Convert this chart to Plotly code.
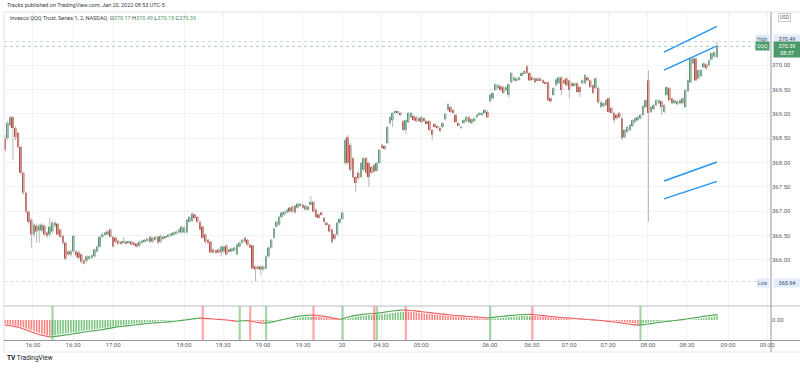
import plotly.graph_objects as go

# ---------------- data ----------------
opens = [
    368.50, 368.50, 368.77, 368.93, 368.71, 368.61, 368.32, 367.79, 367.38, 366.99,
    366.82, 366.52, 366.70, 366.60, 366.60, 366.70, 366.56, 366.52, 366.58, 366.70,
    366.74, 366.62, 366.49, 366.35, 366.17, 366.11, 366.17, 366.17, 366.15, 366.11,
    365.98, 365.98, 366.02, 366.04, 366.07, 366.17, 366.27, 366.47, 366.52, 366.52,
    366.62, 366.47, 366.45, 366.39, 366.37, 366.35, 366.37, 366.35, 366.37, 366.35,
    366.33, 366.29, 366.35, 366.37, 366.39, 366.47, 366.37, 366.41, 366.47, 366.37,
    366.47, 366.45, 366.47, 366.49, 366.52, 366.54, 366.56, 366.56, 366.56, 366.56,
    366.78, 366.80, 366.93, 366.88, 366.78, 366.68, 366.52, 366.41, 366.37, 366.21,
    366.19, 366.21, 366.15, 366.17, 366.29, 366.21, 366.17, 366.19, 366.11, 366.27,
    366.35, 366.45, 366.41, 366.31, 366.29, 365.86, 365.82, 365.86, 365.80, 365.82,
    366.07, 366.25, 366.45, 366.68, 366.72, 366.88, 366.93, 366.97, 367.07, 366.99,
    367.11, 367.07, 367.11, 367.13, 367.03, 367.09, 367.13, 367.19, 367.03, 366.93,
    366.97, 366.86, 366.76, 366.72, 366.62, 366.52, 366.52, 366.76, 366.84, 367.99,
    368.52, 368.36, 368.09, 367.70, 367.79, 367.70, 367.85, 368.09, 367.99, 367.91,
    367.95, 367.83, 367.99, 368.36, 368.34, 368.40, 368.81, 368.87, 369.02, 369.02,
    369.02, 368.85, 368.67, 368.83, 368.93, 368.96, 368.93, 368.91, 368.83, 368.91,
    368.85, 368.85, 368.67, 368.79, 368.75, 368.71, 368.73, 368.89, 369.08, 369.14,
    369.08, 368.98, 368.81, 368.71, 368.81, 368.85, 368.93, 368.81, 368.85, 368.93,
    368.98, 368.98, 369.02, 369.04, 369.26, 369.32, 369.49, 369.53, 369.57, 369.55,
    369.49, 369.39, 369.65, 369.69, 369.69, 369.71, 369.80, 369.84, 369.98, 369.84,
    369.75, 369.73, 369.69, 369.73, 369.69, 369.65, 369.65, 369.32, 369.39, 369.59,
    369.63, 369.75, 369.69, 369.73, 369.69, 369.63, 369.59, 369.63, 369.55, 369.63,
    369.63, 369.75, 369.69, 369.59, 369.53, 369.53, 369.14, 369.16, 369.18, 369.32,
    369.12, 369.02, 368.98, 369.02, 368.91, 368.52, 368.63, 368.67, 368.75, 368.83,
    368.87, 368.91, 368.98, 369.14, 369.69, 369.04, 369.10, 369.18, 369.22, 369.26,
    369.04, 369.39, 369.53, 369.32, 369.22, 369.20, 369.28, 369.22, 369.14, 369.47,
    369.65, 370.04, 370.14, 369.73, 369.78, 369.96, 370.02, 370.00, 370.12, 370.18, 370.17,
]
highs = [
    368.57, 368.85, 368.96, 368.96, 368.75, 368.63, 368.34, 367.81, 367.40, 367.01,
    366.86, 366.76, 366.74, 366.74, 366.76, 366.72, 366.58, 366.86, 366.80, 366.80,
    366.76, 366.64, 366.52, 366.37, 366.19, 366.21, 366.52, 366.19, 366.19, 366.13,
    366.00, 366.09, 366.09, 366.11, 366.23, 366.29, 366.49, 366.56, 366.58, 366.62,
    366.64, 366.49, 366.47, 366.41, 366.39, 366.47, 366.39, 366.39, 366.39, 366.37,
    366.35, 366.39, 366.41, 366.43, 366.45, 366.49, 366.47, 366.49, 366.49, 366.52,
    366.49, 366.49, 366.54, 366.56, 366.58, 366.60, 366.64, 366.70, 366.68, 366.84,
    366.90, 366.97, 366.95, 366.90, 366.80, 366.70, 366.54, 366.43, 366.39, 366.23,
    366.21, 366.23, 366.29, 366.29, 366.31, 366.23, 366.25, 366.27, 366.33, 366.37,
    366.43, 366.47, 366.43, 366.33, 366.31, 365.88, 365.88, 365.88, 365.88, 366.09,
    366.27, 366.43, 366.66, 366.80, 366.90, 366.99, 367.01, 367.05, 367.09, 367.11,
    367.13, 367.17, 367.17, 367.15, 367.13, 367.11, 367.31, 367.21, 367.05, 366.95,
    366.99, 366.88, 366.78, 366.74, 366.64, 366.54, 366.78, 366.86, 366.99, 368.50,
    368.57, 368.40, 368.11, 367.72, 367.81, 368.01, 368.11, 368.11, 368.01, 367.93,
    367.97, 368.01, 368.28, 368.38, 368.36, 368.75, 368.96, 369.04, 369.08, 369.06,
    369.04, 368.87, 368.89, 369.04, 369.04, 368.98, 368.96, 368.93, 368.96, 368.93,
    368.87, 368.87, 368.69, 368.81, 368.77, 368.73, 368.83, 369.02, 369.22, 369.16,
    369.10, 369.00, 368.83, 368.75, 368.89, 368.96, 368.96, 368.91, 368.93, 369.00,
    369.04, 369.04, 369.10, 369.08, 369.41, 369.45, 369.63, 369.61, 369.59, 369.57,
    369.57, 369.63, 369.86, 369.77, 369.75, 369.77, 369.86, 369.90, 370.00, 369.86,
    369.77, 369.75, 369.75, 369.75, 369.71, 369.67, 369.67, 369.34, 369.55, 369.73,
    369.77, 369.77, 369.71, 369.75, 369.71, 369.65, 369.65, 369.65, 369.57, 369.71,
    369.82, 369.77, 369.71, 369.61, 369.75, 369.57, 369.26, 369.24, 369.30, 369.34,
    369.14, 369.04, 369.00, 369.04, 368.93, 368.69, 368.75, 368.79, 368.89, 368.93,
    368.96, 369.00, 369.18, 369.30, 369.90, 369.16, 369.20, 369.30, 369.30, 369.28,
    369.20, 369.57, 369.55, 369.34, 369.30, 369.28, 369.30, 369.34, 369.51, 369.71,
    370.16, 370.16, 370.16, 369.92, 369.92, 370.06, 370.04, 370.12, 370.27, 370.29, 370.49,
]
lows = [
    368.22, 368.46, 368.73, 368.05, 368.46, 368.30, 367.75, 367.34, 366.95, 366.72,
    366.25, 366.47, 366.35, 366.35, 366.56, 366.49, 366.45, 366.47, 366.54, 366.66,
    366.49, 366.45, 366.31, 365.98, 366.07, 366.07, 366.15, 366.04, 366.00, 365.92,
    365.90, 365.94, 366.00, 366.02, 366.04, 366.15, 366.25, 366.45, 366.49, 366.49,
    366.45, 366.25, 366.33, 366.31, 366.31, 366.33, 366.31, 366.33, 366.29, 366.29,
    366.25, 366.27, 366.33, 366.35, 366.37, 366.35, 366.35, 366.39, 366.33, 366.35,
    366.41, 366.43, 366.45, 366.47, 366.49, 366.52, 366.54, 366.54, 366.54, 366.54,
    366.76, 366.78, 366.84, 366.76, 366.60, 366.43, 366.33, 366.33, 366.13, 366.13,
    366.13, 366.13, 366.07, 366.15, 366.09, 366.15, 366.15, 366.17, 366.09, 366.25,
    366.33, 366.35, 366.29, 366.23, 365.80, 365.55, 365.80, 365.68, 365.78, 365.80,
    366.04, 366.23, 366.43, 366.66, 366.70, 366.86, 366.90, 366.95, 366.97, 366.97,
    366.95, 367.05, 367.09, 367.05, 367.01, 367.01, 367.11, 366.97, 366.86, 366.84,
    366.90, 366.76, 366.70, 366.56, 366.33, 366.41, 366.49, 366.74, 366.82, 367.95,
    367.95, 367.81, 367.66, 367.40, 367.64, 367.68, 367.83, 367.75, 367.50, 367.77,
    367.79, 367.81, 367.97, 368.28, 368.26, 368.38, 368.79, 368.73, 369.00, 369.00,
    368.96, 368.65, 368.59, 368.81, 368.91, 368.85, 368.83, 368.83, 368.81, 368.83,
    368.79, 368.65, 368.46, 368.71, 368.69, 368.63, 368.71, 368.87, 369.06, 369.02,
    369.00, 368.81, 368.75, 368.69, 368.79, 368.83, 368.81, 368.79, 368.83, 368.91,
    368.96, 368.96, 369.00, 368.91, 369.24, 369.30, 369.47, 369.51, 369.47, 369.41,
    369.47, 369.34, 369.63, 369.67, 369.67, 369.69, 369.78, 369.82, 369.82, 369.67,
    369.69, 369.63, 369.67, 369.67, 369.63, 369.61, 369.26, 369.24, 369.37, 369.57,
    369.61, 369.39, 369.61, 369.57, 369.32, 369.57, 369.57, 369.43, 369.34, 369.61,
    369.61, 369.67, 369.53, 369.41, 369.51, 369.20, 369.12, 369.14, 369.16, 369.02,
    369.00, 368.81, 368.89, 368.91, 368.46, 368.50, 368.61, 368.65, 368.73, 368.81,
    368.85, 368.89, 368.96, 369.12, 366.78, 369.02, 369.08, 369.16, 369.20, 368.98,
    369.02, 369.37, 369.26, 369.20, 369.20, 369.18, 369.20, 369.20, 369.12, 369.45,
    369.63, 370.02, 369.67, 369.71, 369.75, 369.94, 369.90, 369.98, 370.10, 370.16, 370.15,
]
closes = [
    368.26, 368.81, 368.93, 368.71, 368.52, 368.32, 367.79, 367.38, 366.99, 366.78,
    366.52, 366.72, 366.58, 366.70, 366.72, 366.52, 366.49, 366.68, 366.76, 366.76,
    366.52, 366.47, 366.35, 366.02, 366.11, 366.17, 366.49, 366.09, 366.04, 365.96,
    365.92, 366.07, 366.07, 366.09, 366.21, 366.27, 366.47, 366.52, 366.56, 366.58,
    366.47, 366.27, 366.37, 366.33, 366.33, 366.37, 366.33, 366.37, 366.31, 366.31,
    366.27, 366.37, 366.39, 366.41, 366.43, 366.37, 366.45, 366.47, 366.35, 366.49,
    366.43, 366.47, 366.52, 366.54, 366.56, 366.58, 366.62, 366.68, 366.66, 366.82,
    366.88, 366.95, 366.86, 366.78, 366.62, 366.45, 366.37, 366.35, 366.15, 366.15,
    366.15, 366.15, 366.27, 366.27, 366.11, 366.17, 366.23, 366.25, 366.31, 366.35,
    366.41, 366.37, 366.31, 366.25, 365.82, 365.80, 365.86, 365.80, 365.86, 366.07,
    366.25, 366.41, 366.64, 366.78, 366.88, 366.97, 366.99, 367.03, 366.99, 367.09,
    366.97, 367.15, 367.15, 367.07, 367.11, 367.03, 367.19, 366.99, 366.88, 366.86,
    366.93, 366.78, 366.72, 366.58, 366.37, 366.43, 366.76, 366.84, 366.97, 368.46,
    367.99, 367.85, 367.70, 367.58, 367.68, 367.99, 368.09, 367.79, 367.70, 367.79,
    367.81, 367.99, 368.26, 368.30, 368.28, 368.73, 368.93, 369.02, 369.06, 369.04,
    368.98, 368.67, 368.87, 369.02, 369.02, 368.87, 368.85, 368.85, 368.93, 368.85,
    368.81, 368.67, 368.57, 368.73, 368.71, 368.65, 368.81, 369.00, 369.20, 369.04,
    369.02, 368.83, 368.77, 368.73, 368.87, 368.93, 368.83, 368.89, 368.91, 368.98,
    369.02, 369.02, 369.08, 368.93, 369.39, 369.43, 369.61, 369.59, 369.49, 369.43,
    369.55, 369.61, 369.84, 369.75, 369.73, 369.75, 369.84, 369.88, 369.84, 369.69,
    369.71, 369.65, 369.73, 369.69, 369.65, 369.63, 369.28, 369.26, 369.53, 369.71,
    369.75, 369.49, 369.63, 369.59, 369.49, 369.59, 369.63, 369.45, 369.45, 369.69,
    369.80, 369.69, 369.55, 369.43, 369.73, 369.24, 369.24, 369.22, 369.28, 369.04,
    369.02, 368.87, 368.91, 368.93, 368.50, 368.67, 368.73, 368.77, 368.87, 368.91,
    368.93, 368.98, 369.16, 369.28, 369.02, 369.14, 369.18, 369.28, 369.28, 369.14,
    369.18, 369.55, 369.28, 369.22, 369.28, 369.26, 369.22, 369.32, 369.49, 369.69,
    370.14, 370.14, 369.69, 369.90, 369.90, 370.04, 369.94, 370.10, 370.25, 370.27, 370.39,
]
# oscillator (lower pane)
osc = [
    -0.050, -0.054, -0.058, -0.062,
    -0.066, -0.072, -0.080, -0.089, -0.099, -0.109, -0.119, -0.128, -0.137, -0.145,
    -0.152, -0.158, -0.164, -0.170,
    -0.167, -0.164, -0.161, -0.157, -0.154, -0.150, -0.146, -0.142, -0.138, -0.134,
    -0.129, -0.125, -0.120, -0.117, -0.113, -0.110, -0.106, -0.103, -0.100, -0.096,
    -0.091, -0.086, -0.081, -0.076, -0.071, -0.068, -0.065, -0.062, -0.059, -0.056,
    -0.053, -0.050, -0.047, -0.044, -0.041, -0.038, -0.035, -0.032, -0.030, -0.029,
    -0.027, -0.025, -0.023, -0.021, -0.019, -0.016, -0.013, -0.010, -0.007, -0.004,
    -0.001, 0.002, 0.006, 0.010, 0.014, 0.017, 0.019,
    0.018, 0.016, 0.014, 0.012, 0.010, 0.008, 0.006, 0.004, 0.002, 0.000,
    -0.003, -0.006, -0.009, -0.012,
    -0.010, -0.008, -0.007, -0.006,
    -0.010, -0.015, -0.020, -0.025, -0.029, -0.032,
    -0.030, -0.026, -0.021, -0.016, -0.010, -0.004, 0.002, 0.008, 0.014, 0.020,
    0.026, 0.031, 0.036, 0.040, 0.043, 0.046, 0.048, 0.050,
    0.049, 0.047, 0.044, 0.040, 0.036, 0.031, 0.026, 0.021, 0.016, 0.011, 0.007,
    0.010, 0.020, 0.028, 0.035, 0.041, 0.046, 0.050, 0.054, 0.057, 0.060, 0.063, 0.065,
    0.064,
    0.067, 0.071, 0.075, 0.079, 0.083, 0.087, 0.090, 0.093, 0.096, 0.098, 0.100,
    0.099, 0.097, 0.095, 0.092, 0.089, 0.086, 0.083, 0.080, 0.077, 0.074,
    0.071, 0.068, 0.065, 0.062, 0.059, 0.056, 0.053, 0.050, 0.047, 0.045,
    0.043, 0.041, 0.039, 0.037, 0.035, 0.033, 0.031, 0.029, 0.027, 0.025, 0.023, 0.021,
    0.023, 0.026, 0.029, 0.032, 0.035, 0.038, 0.041, 0.044, 0.046, 0.048,
    0.050, 0.052, 0.053, 0.054, 0.055, 0.056,
    0.055, 0.053, 0.050, 0.047, 0.044, 0.041, 0.038, 0.035, 0.032, 0.029,
    0.027, 0.025, 0.023, 0.021, 0.019, 0.017, 0.015, 0.013, 0.011, 0.009,
    0.007, 0.005, 0.003, 0.001, -0.001, -0.003, -0.005, -0.008, -0.011, -0.014,
    -0.017, -0.020, -0.023, -0.026, -0.030, -0.034, -0.038, -0.042, -0.046, -0.049, -0.051,
    -0.049, -0.046, -0.043, -0.040, -0.036, -0.032, -0.028, -0.024, -0.020, -0.017,
    -0.014, -0.011, -0.008, -0.005, -0.002, 0.001, 0.004, 0.008, 0.012, 0.016,
    0.020, 0.024, 0.028, 0.032, 0.036, 0.040, 0.044, 0.048, 0.051, 0.054,
]

time_tick_pos = [10.6, 25.8, 41.0, 67.9, 82.7, 97.8, 113.0, 127.8, 142.6, 157.8,
                 183.9, 199.8, 213.9, 228.7, 243.8, 258.6, 274.2, 289.0]
time_tick_text = ["16:00", "16:30", "17:00", "18:00", "18:30", "19:00", "19:30", "20",
                  "04:30", "05:00", "06:00", "06:30", "07:00", "07:30", "08:00",
                  "08:30", "09:00", "09:30"]
price_ticks = [366.0, 366.5, 367.0, 367.5, 368.0, 368.5, 369.0, 369.5, 370.0]
price_tick_text = ["366.00", "366.50", "367.00", "367.50", "368.00", "368.50",
                   "369.00", "369.50", "370.00"]

# drawn trend lines (bar index, price)
trend_x0 = [249.9, 249.9, 249.9, 249.9]
trend_x1 = [270.0, 270.0, 270.0, 270.0]
trend_y0 = [370.27, 369.90, 367.62, 367.25]
trend_y1 = [370.80, 370.40, 368.01, 367.61]

high_value = 370.49
last_value = 370.39
low_line_value = 365.55
low_label_text = "365.94"

# ---------------- figure ----------------
n = len(closes)
assert all(len(a) == n for a in (opens, highs, lows, osc)), [len(a) for a in (opens, highs, lows, closes, osc)]
idx = list(range(n))

UP = "#4f9a6e"
DOWN = "#c4473a"
WICK = "#b8b8b8"
GRID = "#f0f2f6"
TXT = "#5d606b"
FONT = "Roboto"

body_base = [min(o, c) for o, c in zip(opens, closes)]
body_len = [abs(c - o) for o, c in zip(opens, closes)]
body_col = [UP if c >= o else DOWN for o, c in zip(opens, closes)]

wick_x, wick_y = [], []
for i, h, l in zip(idx, highs, lows):
    wick_x += [i, i, None]
    wick_y += [l, h, None]

osc_dir = []
for i, v in enumerate(osc):
    if i == 0:
        d = "g" if osc[1] > osc[0] else "r"
    elif v > osc[i - 1]:
        d = "g"
    elif v < osc[i - 1]:
        d = "r"
    else:
        d = osc_dir[-1]
    osc_dir.append(d)
osc_bar_col = ["rgba(76,175,80,0.72)" if d == "g" else "rgba(255,82,82,0.72)" for d in osc_dir]
signals = [i for i in range(1, n) if osc_dir[i] != osc_dir[i - 1]]

seg = {"g": ([], []), "r": ([], [])}
for i in range(1, n):
    xs, ys = seg[osc_dir[i]]
    xs += [i - 1, i, None]
    ys += [osc[i - 1], osc[i], None]

fig = go.Figure()
fig.add_trace(go.Scatter(x=wick_x, y=wick_y, mode="lines", line=dict(color=WICK, width=1),
                         xaxis="x", yaxis="y", hoverinfo="skip"))
fig.add_trace(go.Bar(x=idx, y=body_len, base=body_base, width=0.72,
                     marker=dict(color=body_col, line=dict(width=0)), xaxis="x", yaxis="y"))
fig.add_trace(go.Bar(x=idx, y=osc, width=0.6, marker=dict(color=osc_bar_col, line=dict(width=0)),
                     xaxis="x2", yaxis="y2"))
fig.add_trace(go.Scatter(x=idx, y=osc, mode="lines", line=dict(color="white", width=2.6),
                         xaxis="x2", yaxis="y2", hoverinfo="skip"))
fig.add_trace(go.Scatter(x=seg["g"][0], y=seg["g"][1], mode="lines", line=dict(color="#43a047", width=1.1),
                         xaxis="x2", yaxis="y2", hoverinfo="skip"))
fig.add_trace(go.Scatter(x=seg["r"][0], y=seg["r"][1], mode="lines", line=dict(color="#f05050", width=1.1),
                         xaxis="x2", yaxis="y2", hoverinfo="skip"))


def PX(x):
    return (x - 4) / 767.0


def PY(y):
    return (340 - y) / 328.0


shapes = []
for i in signals:
    col = "rgba(76,175,80,0.5)" if osc_dir[i] == "g" else "rgba(255,82,82,0.5)"
    shapes.append(dict(type="rect", xref="x2", yref="y2 domain", x0=i - 0.42, x1=i + 0.42, y0=0, y1=1,
                       fillcolor=col, line=dict(width=0), layer="above"))
for x0, x1, y0, y1 in zip(trend_x0, trend_x1, trend_y0, trend_y1):
    shapes.append(dict(type="line", xref="x", yref="y", x0=x0, x1=x1, y0=y0, y1=y1,
                       line=dict(color="#2196f3", width=1.4)))
shapes.append(dict(type="line", xref="paper", yref="y", x0=0, x1=1, y0=high_value, y1=high_value,
                   line=dict(color="#d5d8de", width=1, dash="dot")))
shapes.append(dict(type="line", xref="paper", yref="y", x0=0, x1=1, y0=last_value, y1=last_value,
                   line=dict(color="#a9cdb8", width=1, dash="dot")))
shapes.append(dict(type="line", xref="paper", yref="y", x0=0, x1=1, y0=low_line_value, y1=low_line_value,
                   line=dict(color="#d5d8de", width=1, dash="dot")))
# frame / separators
shapes += [
    dict(type="line", xref="paper", yref="paper", x0=0, x1=0, y0=PY(352), y1=1, line=dict(color="#e0e3eb", width=1)),
    dict(type="line", xref="paper", yref="paper", x0=0, x1=PX(800), y0=1, y1=1, line=dict(color="#e0e3eb", width=1)),
    dict(type="line", xref="paper", yref="paper", x0=0, x1=PX(800), y0=PY(306), y1=PY(306), line=dict(color="#b8bcc4", width=1)),
    dict(type="line", xref="paper", yref="paper", x0=0, x1=PX(800), y0=PY(340.5), y1=PY(340.5), line=dict(color="#9598a1", width=1)),
    dict(type="line", xref="paper", yref="paper", x0=0, x1=PX(800), y0=PY(352), y1=PY(352), line=dict(color="#e6e8ee", width=1)),
    dict(type="line", xref="paper", yref="paper", x0=1, x1=1, y0=PY(352), y1=1, line=dict(color="#9598a1", width=1)),
]

LB = "#e3ecfb"
GRN = "#4c9a6a"
ann = [
    dict(x=PX(5), y=PY(5), xanchor="left", yanchor="middle",
         text="Tracks published on TradingView.com, Jan 20, 2022 08:53 UTC-5",
         font=dict(size=5.5, color="#3a3d46")),
    dict(x=PX(8), y=PY(18), xanchor="left", yanchor="middle",
         text=("Invesco QQQ Trust, Series 1, 2, NASDAQ  "
               "O<span style='color:%s'>370.17</span> H<span style='color:%s'>370.49</span> "
               "L<span style='color:%s'>370.15</span> C<span style='color:%s'>370.39</span>") % (GRN, GRN, GRN, GRN),
         font=dict(size=5.5, color="#3a3d46")),
    dict(x=PX(784), y=PY(17), xanchor="center", yanchor="middle", text="USD",
         font=dict(size=4.8, color=TXT), bordercolor="#c8cbd2", borderwidth=1, borderpad=1),
    dict(x=PX(770), y=PY(39), xanchor="right", yanchor="middle", text="High",
         font=dict(size=5, color="#50607a"), bgcolor=LB, borderpad=1),
    dict(x=PX(773), y=PY(39), xanchor="left", yanchor="middle", text="370.49", width=24,
         font=dict(size=5.5, color="#3b4a66"), bgcolor=LB, borderpad=1),
    dict(x=PX(770), y=PY(46), xanchor="right", yanchor="middle", text="QQQ",
         font=dict(size=5, color="white"), bgcolor=GRN, borderpad=1),
    dict(x=PX(773), y=PY(49), xanchor="left", yanchor="middle", text="370.39<br>08:37", width=24,
         font=dict(size=5.5, color="white"), bgcolor=GRN, borderpad=1),
    dict(x=PX(770), y=PY(283), xanchor="right", yanchor="middle", text="Low",
         font=dict(size=5, color="#50607a"), bgcolor=LB, borderpad=1),
    dict(x=PX(773), y=PY(283), xanchor="left", yanchor="middle", text=low_label_text, width=24,
         font=dict(size=5.5, color="#3b4a66"), bgcolor=LB, borderpad=1),
    dict(x=PX(5), y=PY(358), xanchor="left", yanchor="middle", text="<b>TV</b> TradingView",
         font=dict(size=6.5, color="#131722")),
]
for a in ann:
    a.update(xref="paper", yref="paper", showarrow=False)

xr = [-0.38, 290.48]
yr = [370 - (306 - 65.3) / 48.6, 370 + (65.3 - 12) / 48.6]
split = PY(306)

fig.update_layout(
    width=800, height=368,
    margin=dict(l=4, r=29, t=12, b=28, autoexpand=False),
    paper_bgcolor="white", plot_bgcolor="white",
    showlegend=False, hovermode=False, barmode="overlay",
    font=dict(family=FONT, size=6, color=TXT),
    shapes=shapes, annotations=ann,
    xaxis=dict(domain=[0, 1], anchor="y", range=xr, tickvals=time_tick_pos, showticklabels=False,
               showgrid=True, gridcolor=GRID, gridwidth=1, zeroline=False, ticks="", showline=False),
    yaxis=dict(domain=[split, 1], anchor="x", range=yr, side="right", tickvals=price_ticks,
               ticktext=price_tick_text, showgrid=True, gridcolor=GRID, gridwidth=1, zeroline=False,
               ticks="", showline=False, tickfont=dict(size=6, color=TXT, family=FONT)),
    xaxis2=dict(domain=[0, 1], anchor="y2", range=xr, tickvals=time_tick_pos, ticktext=time_tick_text,
                showgrid=True, gridcolor=GRID, gridwidth=1, zeroline=False, ticks="", showline=False,
                tickfont=dict(size=6, color=TXT, family=FONT)),
    yaxis2=dict(domain=[0, split], anchor="x2", range=[-0.20, 0.14], side="right", tickvals=[0],
                ticktext=["0.00"], showgrid=False, zeroline=False, ticks="", showline=False,
                tickfont=dict(size=6, color=TXT, family=FONT)),
)

fig.write_html("out.html", config={"displayModeBar": False},
               post_script="document.body.style.margin='0px';document.body.style.overflow='hidden';")
